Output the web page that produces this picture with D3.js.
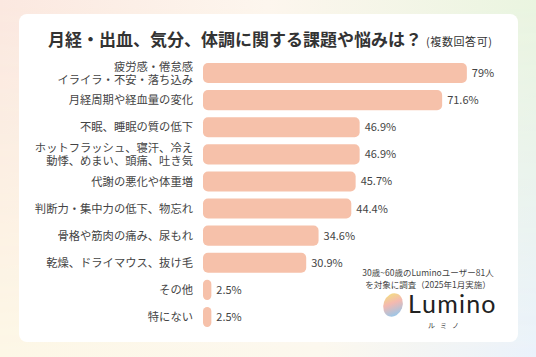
<!DOCTYPE html>
<html><head><meta charset="utf-8">
<script src="https://cdn.jsdelivr.net/npm/d3@7/dist/d3.min.js"></script>
<style>
html,body{margin:0;padding:0;}
body{width:536px;height:357px;overflow:hidden;}
svg{display:block;font-family:"Noto Sans CJK JP","Noto Sans",sans-serif;text-spacing-trim:space-all;font-kerning:none;font-feature-settings:"chws" 0,"palt" 0,"halt" 0;}
</style></head>
<body>
<script>
const categories = [
  ["疲労感・倦怠感","イライラ・不安・落ち込み"],
  ["月経周期や経血量の変化"],
  ["不眠、睡眠の質の低下"],
  ["ホットフラッシュ、寝汗、冷え","動悸、めまい、頭痛、吐き気"],
  ["代謝の悪化や体重増"],
  ["判断力・集中力の低下、物忘れ"],
  ["骨格や筋肉の痛み、尿もれ"],
  ["乾燥、ドライマウス、抜け毛"],
  ["その他"],
  ["特にない"]
];
const values = [79, 71.6, 46.9, 46.9, 45.7, 44.4, 34.6, 30.9, 2.5, 2.5];
const valueLabels = ["79%","71.6%","46.9%","46.9%","45.7%","44.4%","34.6%","30.9%","2.5%","2.5%"];
const title = "月経・出血、気分、体調に関する課題や悩みは？";
const subtitle = "(複数回答可)";
const noteLines = ["30歳~60歳のLuminoユーザー81人","を対象に調査（2025年1月実施）"];

const W = 536, H = 357;
const svg = d3.select("body").append("svg").attr("width", W).attr("height", H);
const defs = svg.append("defs");

// background gradients
const g1 = defs.append("linearGradient").attr("id","bgH").attr("x1","0").attr("y1","0").attr("x2","1").attr("y2","0");
g1.append("stop").attr("offset","0").attr("stop-color","#fbe8e0");
g1.append("stop").attr("offset","0.5").attr("stop-color","#fdf6ee");
g1.append("stop").attr("offset","1").attr("stop-color","#eaf5e0");
svg.append("rect").attr("width",W).attr("height",H).attr("fill","url(#bgH)");
const g2 = defs.append("linearGradient").attr("id","bgV").attr("x1","0").attr("y1","0").attr("x2","1").attr("y2","0");
g2.append("stop").attr("offset","0").attr("stop-color","#fdf7e6");
g2.append("stop").attr("offset","0.6").attr("stop-color","#fcf8ee");
g2.append("stop").attr("offset","1").attr("stop-color","#eaf2fb");
const mask = defs.append("linearGradient").attr("id","mk").attr("x1","0").attr("y1","0").attr("x2","0").attr("y2","1");
mask.append("stop").attr("offset","0").attr("stop-color","white").attr("stop-opacity",0);
mask.append("stop").attr("offset","1").attr("stop-color","white").attr("stop-opacity",1);
defs.append("mask").attr("id","m1").append("rect").attr("width",W).attr("height",H).attr("fill","url(#mk)");
svg.append("rect").attr("width",W).attr("height",H).attr("fill","url(#bgV)").attr("mask","url(#m1)");

// card
svg.append("rect").attr("x",19).attr("y",14).attr("width",499).attr("height",328).attr("rx",8).attr("fill","#ffffff");

// title
const t = svg.append("text").attr("x",48).attr("y",46).attr("fill","#333").style("font-weight","700");
t.append("tspan").style("font-size","17px").text(title);
t.append("tspan").style("font-size","11px").style("font-weight","400").style("letter-spacing","0.6px").attr("dx",4).text(subtitle);

const x = d3.scaleLinear().domain([0,100]).range([203, 537]);
const y = d3.scaleBand().domain(d3.range(categories.length)).range([59.5, 330.5]).paddingInner(0.26).paddingOuter(0.13);

const rows = svg.append("g").selectAll("g").data(values).join("g");
rows.append("rect")
  .attr("x", x(0))
  .attr("y", (d,i)=>y(i))
  .attr("width", d=>x(d)-x(0))
  .attr("height", y.bandwidth())
  .attr("rx", d=>Math.min(5,(x(d)-x(0))/2))
  .attr("fill","#f6c1aa");
rows.append("text")
  .attr("x", d=>x(d)+5)
  .attr("y", (d,i)=>y(i)+y.bandwidth()/2)
  .attr("dy","0.36em")
  .attr("fill","#444")
  .style("font-size","11px")
  .text((d,i)=>valueLabels[i]);
rows.append("text")
  .attr("text-anchor","end")
  .attr("fill","#444")
  .style("font-size","11.3px")
  .each(function(d,i){
    const lines = categories[i];
    const cy = y(i)+y.bandwidth()/2;
    const lh = 12.8;
    lines.forEach((l,k)=>{
      d3.select(this).append("tspan").attr("x",193)
        .attr("y", cy + (k-(lines.length-1)/2)*lh)
        .attr("dy","0.36em").text(l);
    });
  });

// note
svg.append("g").selectAll("text").data(noteLines).join("text")
  .attr("x",428).attr("y",(d,i)=>275.5+i*12).attr("text-anchor","middle")
  .attr("fill","#444").style("font-size","8.5px").text(d=>d);

// logo
const lg = defs.append("linearGradient").attr("id","logoG").attr("x1","0.1").attr("y1","0").attr("x2","0.8").attr("y2","1");
lg.append("stop").attr("offset","0").attr("stop-color","#f3e37a");
lg.append("stop").attr("offset","0.45").attr("stop-color","#f4b9b0");
lg.append("stop").attr("offset","1").attr("stop-color","#8ec8f0");
svg.append("ellipse").attr("cx",393).attr("cy",305).attr("rx",9.5).attr("ry",12)
  .attr("transform","rotate(20,393,305)").attr("fill","url(#logoG)");
svg.append("text").attr("x",408).attr("y",313).attr("fill","#222")
  .style("font-family","Lato, 'Noto Sans', sans-serif").style("font-size","25px").style("letter-spacing","1.2px").text("Lumino");
svg.append("text").attr("x",446).attr("y",328).attr("text-anchor","middle").attr("fill","#333")
  .style("font-size","7px").style("letter-spacing","5px").text("ルミノ");
</script>
</body></html>
